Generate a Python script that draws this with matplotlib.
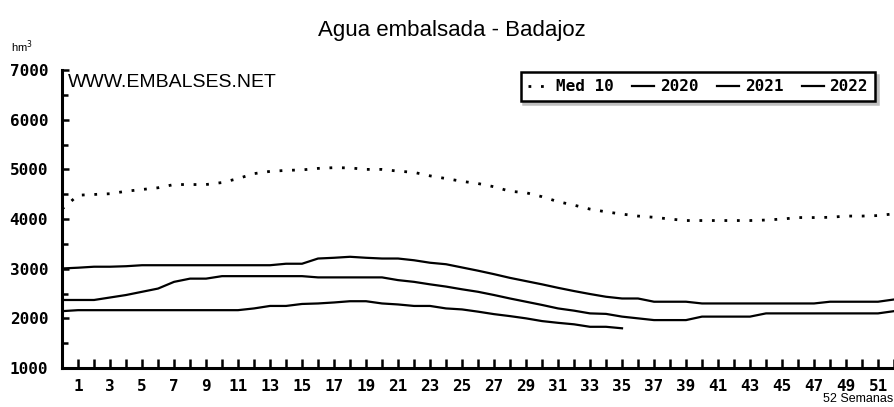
import matplotlib
matplotlib.use("Agg")
import matplotlib.pyplot as plt
from matplotlib.ticker import MultipleLocator, FixedLocator

title = "Agua embalsada - Badajoz"
week_labels = [str(w) for w in range(1, 52, 2)]
weeks_full = list(range(0, 53))
weeks_2022 = list(range(0, 36))

med10 = [4200, 4480, 4495, 4510, 4560, 4595, 4630, 4695, 4695, 4695, 4735, 4815, 4915,
         4960, 4980, 4990, 5020, 5035, 5030, 5000, 5000, 4965, 4940, 4870, 4815, 4760,
         4715, 4650, 4560, 4530, 4450, 4350, 4280, 4200, 4145, 4100, 4060, 4035, 4000,
         3970, 3970, 3970, 3970, 3970, 3980, 4000, 4030, 4030, 4035, 4060, 4060, 4070, 4105]
y2020 = [3005, 3020, 3040, 3040, 3050, 3070, 3070, 3070, 3070, 3070, 3070, 3070, 3070,
         3070, 3100, 3100, 3205, 3220, 3240, 3220, 3205, 3205, 3170, 3120, 3090, 3025,
         2960, 2890, 2815, 2750, 2685, 2615, 2550, 2490, 2435, 2400, 2400, 2335, 2335,
         2335, 2300, 2300, 2300, 2300, 2300, 2300, 2300, 2300, 2335, 2335, 2335, 2335, 2380]
y2021 = [2370, 2370, 2370, 2420, 2470, 2535, 2600, 2735, 2800, 2800, 2850, 2850, 2850,
         2850, 2850, 2850, 2825, 2825, 2825, 2825, 2825, 2770, 2735, 2685, 2640, 2585,
         2535, 2470, 2400, 2335, 2270, 2200, 2155, 2100, 2090, 2035, 2000, 1965, 1965,
         1965, 2035, 2035, 2035, 2035, 2100, 2100, 2100, 2100, 2100, 2100, 2100, 2100, 2145]
y2022 = [2145, 2165, 2165, 2165, 2165, 2165, 2165, 2165, 2165, 2165, 2165, 2165, 2200,
         2250, 2250, 2290, 2300, 2320, 2345, 2345, 2300, 2280, 2250, 2250, 2200, 2180,
         2135, 2085, 2045, 2000, 1945, 1910, 1880, 1830, 1830, 1800]

fig = plt.figure(figsize=(8.94, 4.07), dpi=100)
ax = fig.add_axes([0.0694, 0.0958, 0.9306, 0.732])

ax.plot(weeks_full, med10, color="black", lw=2.0, linestyle=(0, (1, 3.5)), label="Med 10")
ax.plot(weeks_full, y2020, color="black", lw=1.6, label="2020")
ax.plot(weeks_full, y2021, color="black", lw=1.6, label="2021")
ax.plot(weeks_2022, y2022, color="black", lw=1.6, label="2022")

ax.set_xlim(0, 52)
ax.set_ylim(1000, 7000)
for s in ("top", "right"):
    ax.spines[s].set_visible(False)
for s in ("left", "bottom"):
    ax.spines[s].set_linewidth(2.2)

ax.yaxis.set_major_locator(MultipleLocator(1000))
ax.yaxis.set_minor_locator(MultipleLocator(500))
ax.xaxis.set_major_locator(FixedLocator(list(range(1, 52, 2))))
ax.xaxis.set_minor_locator(FixedLocator(list(range(2, 53, 2))))
ax.set_xticklabels(week_labels)
ax.tick_params(axis="both", which="both", direction="in", width=1.8, colors="black")
ax.tick_params(axis="x", which="both", length=6.5, pad=8)
ax.tick_params(axis="y", which="major", length=5, pad=10)
ax.tick_params(axis="y", which="minor", length=4)
for lab in ax.get_xticklabels() + ax.get_yticklabels():
    lab.set_fontfamily("DejaVu Sans Mono")
    lab.set_fontweight("bold")
    lab.set_fontsize(11.5)

fig.text(0.506, 0.925, title, ha="center", va="center", fontsize=16, family="Liberation Sans")
fig.text(0.012, 0.885, "hm$^3$", ha="left", va="center", fontsize=8, family="Liberation Sans")
fig.text(0.076, 0.797, "WWW.EMBALSES.NET", ha="left", va="center", fontsize=14, family="Liberation Sans")
fig.text(0.999, 0.005, "52 Semanas", ha="right", va="bottom", fontsize=9, family="Liberation Sans")

leg = ax.legend(loc="upper right", bbox_to_anchor=(0.987, 1.02), ncol=4, frameon=True,
                fancybox=False, shadow={"color": "0.75", "alpha": 1.0}, edgecolor="black",
                handlelength=1.4, handletextpad=0.35, columnspacing=1.15, borderpad=0.45,
                prop={"family": "DejaVu Sans Mono", "weight": "bold", "size": 11.5})
leg.get_frame().set_linewidth(1.8)

fig.savefig("out.png", dpi=100)
